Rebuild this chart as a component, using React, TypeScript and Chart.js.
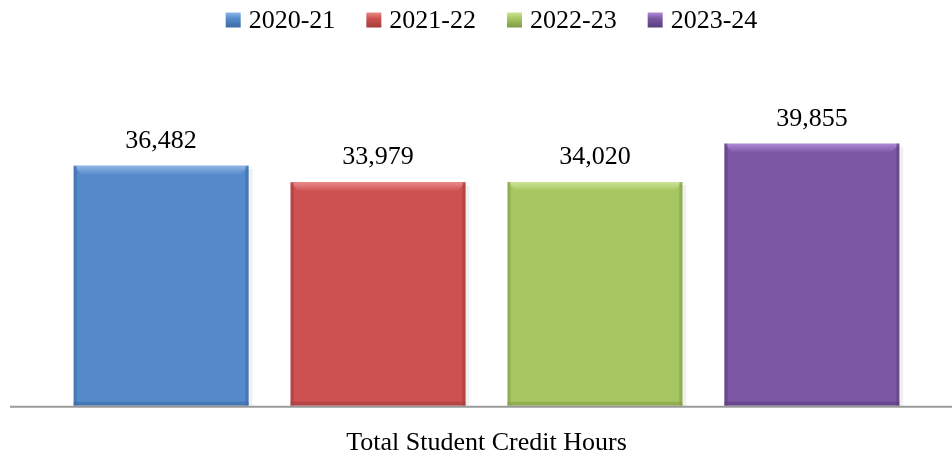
import React, { useEffect, useRef } from "react";
import { Chart, registerables } from "chart.js";

Chart.register(...registerables);

const categories = ["Total Student Credit Hours"];
const seriesLabels = ["2020-21", "2021-22", "2022-23", "2023-24"];
const seriesValues = [36482, 33979, 34020, 39855];
const baseColors = ["#568bcb", "#cd5151", "#a6c662", "#7c57a3"];
const lightColors = ["#8fb6e6", "#ea8a8a", "#cbe495", "#b08ad6"];
const darkColors = ["#3d6aa3", "#a33c3c", "#7f9b45", "#5a3d7c"];
const FONT = "'Liberation Serif', 'Times New Roman', serif";

export default function App() {
  const ref = useRef<HTMLCanvasElement | null>(null);
  useEffect(() => {
    document.body.style.margin = "0";
    const canvas = ref.current!;
    const bevel = {
      id: "bevel",
      afterDatasetsDraw(chart: any) {
        const ctx = chart.ctx;
        chart.data.datasets.forEach((ds: any, i: number) => {
          const meta = chart.getDatasetMeta(i);
          meta.data.forEach((bar: any) => {
            const { x, y, base, width } = bar.getProps(["x", "y", "base", "width"], true);
            const l = x - width / 2, r = x + width / 2;
            ctx.save();
            ctx.fillStyle = "rgba(0,0,0,0.06)";
            ctx.fillRect(r, y + 3, 4, base - y - 3);
            const g = ctx.createLinearGradient(0, y, 0, y + 9);
            g.addColorStop(0, lightColors[i]);
            g.addColorStop(1, baseColors[i]);
            ctx.fillStyle = g;
            ctx.beginPath();
            ctx.moveTo(l, y);
            ctx.lineTo(r, y);
            ctx.lineTo(r - 8, y + 9);
            ctx.lineTo(l + 8, y + 9);
            ctx.closePath();
            ctx.fill();
            ctx.fillStyle = darkColors[i];
            ctx.globalAlpha = 0.55;
            ctx.fillRect(l, y, 3, base - y);
            ctx.fillRect(r - 3, y, 3, base - y);
            ctx.fillRect(l, base - 4, width, 4);
            ctx.globalAlpha = 1;
            ctx.restore();
          });
        });
      },
    };
    const labelsPlugin = {
      id: "valueLabels",
      afterDatasetsDraw(chart: any) {
        const ctx = chart.ctx;
        ctx.save();
        ctx.font = `26px ${FONT}`;
        ctx.fillStyle = "#000";
        ctx.textAlign = "center";
        ctx.textBaseline = "alphabetic";
        chart.data.datasets.forEach((ds: any, i: number) => {
          const meta = chart.getDatasetMeta(i);
          meta.data.forEach((bar: any, j: number) => {
            const v = ds.data[j] as number;
            ctx.fillText(v.toLocaleString("en-US"), bar.x, bar.y - 18);
          });
        });
        ctx.restore();
      },
    };
    const axisLine = {
      id: "axisLine",
      afterDatasetsDraw(chart: any) {
        const ctx = chart.ctx;
        const yb = chart.scales.y.getPixelForValue(0);
        ctx.save();
        ctx.strokeStyle = "#9a9a9a";
        ctx.lineWidth = 2;
        ctx.beginPath();
        ctx.moveTo(10, yb + 1);
        ctx.lineTo(chart.width, yb + 1);
        ctx.stroke();
        ctx.restore();
      },
    };
    const legendPlugin = {
      id: "topLegend",
      afterDraw(chart: any) {
        const ctx = chart.ctx;
        ctx.save();
        ctx.font = `26px ${FONT}`;
        const box = 15, gap = 8, spacing = 31;
        const items = chart.data.datasets.map((ds: any, i: number) => ({
          text: ds.label as string,
          w: ctx.measureText(ds.label).width,
          i,
        }));
        const total = items.reduce((s: number, it: any) => s + box + gap + it.w, 0) + spacing * (items.length - 1);
        const ca = chart.chartArea;
        let x = (ca.left + ca.right) / 2 + 5 - total / 2;
        const cy = 20;
        ctx.textBaseline = "middle";
        ctx.textAlign = "left";
        items.forEach((it: any) => {
          const g = ctx.createLinearGradient(0, cy - box / 2, 0, cy + box / 2);
          g.addColorStop(0, lightColors[it.i]);
          g.addColorStop(0.4, baseColors[it.i]);
          g.addColorStop(1, darkColors[it.i]);
          ctx.fillStyle = g;
          ctx.fillRect(x, cy - box / 2, box, box);
          ctx.fillStyle = "#000";
          ctx.fillText(it.text, x + box + gap, cy + 1);
          x += box + gap + it.w + spacing;
        });
        ctx.restore();
      },
    };
    const chart = new Chart(canvas, {
      type: "bar",
      data: {
        labels: categories,
        datasets: seriesLabels.map((label, i) => ({
          label,
          data: [seriesValues[i]],
          backgroundColor: baseColors[i],
          borderWidth: 0,
          categoryPercentage: 0.932,
          barPercentage: 0.806,
        })),
      },
      options: {
        responsive: false,
        animation: false,
        layout: { padding: { left: 21, right: 0, top: 44, bottom: 0 } },
        plugins: {
          legend: { display: false },
          tooltip: { enabled: false },
        },
        scales: {
          x: {
            grid: { display: false },
            border: { display: false },
            ticks: { display: false },
            title: {
              display: true,
              text: categories[0],
              font: { family: FONT, size: 26 },
              color: "#000",
              padding: { top: 14, bottom: 0 },
            },
          },
          y: {
            display: false,
            min: 0,
            max: 55000,
          },
        },
      },
      plugins: [bevel, labelsPlugin, axisLine, legendPlugin],
    });
    return () => chart.destroy();
  }, []);
  return <canvas ref={ref} width={952} height={459} style={{ display: "block" }} />;
}
